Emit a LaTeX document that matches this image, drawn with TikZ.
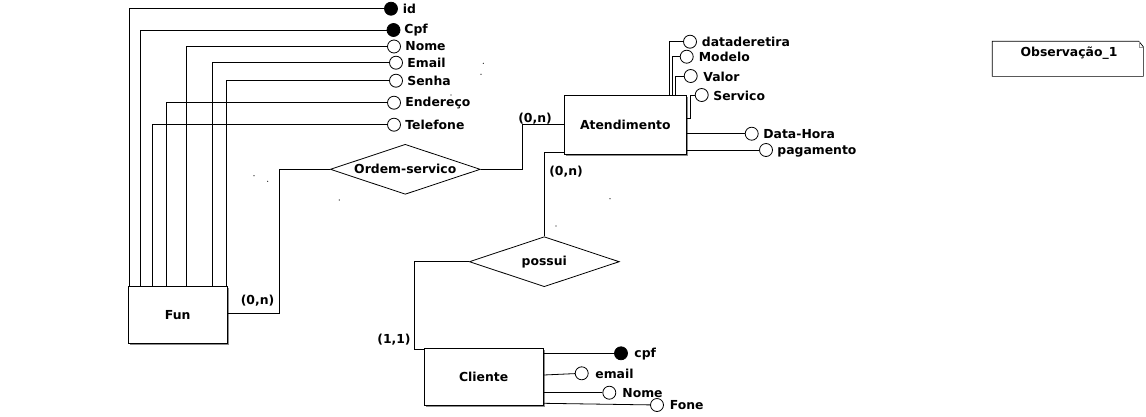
\documentclass[tikz,border=0pt]{standalone}
\usepackage{fontspec}
\setmainfont{DejaVu Sans}
\usetikzlibrary{shapes.geometric,shadows}
\begin{document}
\begin{tikzpicture}[x=1pt,y=-1pt,line width=0.8pt,
  every node/.style={font=\fontsize{12.4}{14}\selectfont\bfseries},
  entity/.style={draw,fill=white,inner sep=0pt,
    drop shadow={shadow xshift=1.6pt,shadow yshift=-1.6pt,fill=black!45,opacity=1}},
  rel/.style={draw,fill=white,diamond,aspect=3,inner sep=0pt,minimum width=150pt,minimum height=50pt},
  attr/.style={draw,circle,fill=white,inner sep=0pt,minimum size=13pt},
  key/.style={attr,fill=black},
  lbl/.style={anchor=west,inner sep=0pt},
  card/.style={inner sep=0pt},
  speck/.style={fill=black,inner sep=0pt,minimum size=1.2pt,circle}]
\useasboundingbox (0,0) rectangle (1146,416);

% entities
\node[entity,minimum width=98.7pt,minimum height=57.3pt] (fun) at (177.7,314.7) {Fun};
\node[entity,minimum width=121.3pt,minimum height=58.3pt] (at) at (625.3,124.8) {Atendimento};
\node[entity,minimum width=119.3pt,minimum height=56.7pt] (cli) at (483.7,376.7) {Cliente};

% relationships
\node[rel] (os) at (405.3,169.3) {Ordem-servico};
\node[rel] (pos) at (544.3,261.7) {possui};

% Fun attributes
\node[key]  (fid)  at (391,8.7) {};
\node[key]  (fcpf) at (393.5,30) {};
\node[attr] (fnome) at (394,46.5) {};
\node[attr] (femail) at (396,62.7) {};
\node[attr] (fsenha) at (396,80.7) {};
\node[attr] (fend) at (394,102.7) {};
\node[attr] (ftel) at (394,124.7) {};
\node[lbl] at (402.5,8.7) {id};
\node[lbl] at (404,30.5) {Cpf};
\node[lbl] at (405,46.5) {Nome};
\node[lbl] at (407,63) {Email};
\node[lbl] at (407,81) {Senha};
\node[lbl] at (405,103) {Endereço};
\node[lbl] at (405,125) {Telefone};

\draw (129.3,0 |- fun.north) |- (fid);
\draw (140.7,0 |- fun.north) |- (fcpf);
\draw (152.3,0 |- fun.north) |- (ftel);
\draw (166,0 |- fun.north) |- (fend);
\draw (186.7,0 |- fun.north) |- (fnome);
\draw (212.7,0 |- fun.north) |- (femail);
\draw (226.3,0 |- fun.north) |- (fsenha);

% Atendimento attributes
\node[attr] (ddr) at (690,41.7) {};
\node[attr] (mod) at (686.7,56.7) {};
\node[attr] (val) at (690.7,76) {};
\node[attr] (serv) at (701.7,95) {};
\node[attr] (dh) at (751.7,133.7) {};
\node[attr] (pag) at (766,150) {};
\node[lbl] at (701.5,41.7) {dataderetira};
\node[lbl] at (698.5,57) {Modelo};
\node[lbl] at (703,76.5) {Valor};
\node[lbl] at (713,95.5) {Servico};
\node[lbl] at (763,134) {Data-Hora};
\node[lbl] at (777,151) {pagamento};

\draw (669.7,0 |- at.north) |- (ddr);
\draw (672.3,0 |- at.north) |- (mod);
\draw (675.3,0 |- at.north) |- (val);
\draw (at.east |- 0,118.3) -- (690,118.3) |- (serv);
\draw (at.east |- dh) -- (dh);
\draw (at.east |- pag) -- (pag);

% Cliente attributes
\node[key]  (ccpf) at (621,353.3) {};
\node[attr] (cemail) at (581.7,373.3) {};
\node[attr] (cnome) at (609.3,392.7) {};
\node[attr] (cfone) at (657,405) {};
\node[lbl] at (634,354) {cpf};
\node[lbl] at (595,373.5) {email};
\node[lbl] at (622,393) {Nome};
\node[lbl] at (669.5,405.5) {Fone};

\draw (cli.east |- ccpf) -- (ccpf);
\draw (cli.east |- 0,375) -- (cemail);
\draw (cli.east |- cnome) -- (cnome);
\draw (cli.east |- 0,403.3) -- (cfone);

% relationship connectors
\draw (os.west) -| (279.3,313.3) -- (fun.east |- 0,313.3);
\draw (os.east) -| (522.3,0 |- at.west) -- (at.west);
\draw (pos.north) |- (at.west |- 0,152.3);
\draw (pos.west) -| (414.3,349.3) -- (cli.west |- 0,349.3);

% cardinalities
\node[card] (c1) at (257.5,301) {(0,n)};
\node[card] (c2) at (535,118.5) {(0,n)};
\node[card] (c3) at (566,172) {(0,n)};
\node[card] (c4) at (394,340) {(1,1)};

% note
\node[inner sep=0pt,minimum width=150.3pt,minimum height=34.3pt] (obs) at (1067.8,58.8) {};
\draw[line width=0.7pt] (obs.north west) -- ([xshift=-4.5pt]obs.north east) -- ([yshift=-5.5pt]obs.north east) -- (obs.south east) -- (obs.south west) -- cycle;
\draw[line width=0.5pt,black!40] ([xshift=-4.5pt]obs.north east) -- ([xshift=-4.5pt,yshift=-5.5pt]obs.north east) -- ([yshift=-5.5pt]obs.north east);
\node[inner sep=0pt] (obstxt) at (1069,52.7) {Observação\_1};

% stray specks
\node[speck] (s1) at (254,175.7) {};
\node[speck] (s2) at (267.7,181.3) {};
\node[speck] (s3) at (339.3,200) {};
\node[speck] (s4) at (556,226) {};
\node[speck] (s5) at (610,198.7) {};
\node[speck] (s6) at (483.3,63.3) {};
\node[speck] (s7) at (481,74.3) {};
\node[speck] (s8) at (451,95) {};
\end{tikzpicture}
\end{document}
